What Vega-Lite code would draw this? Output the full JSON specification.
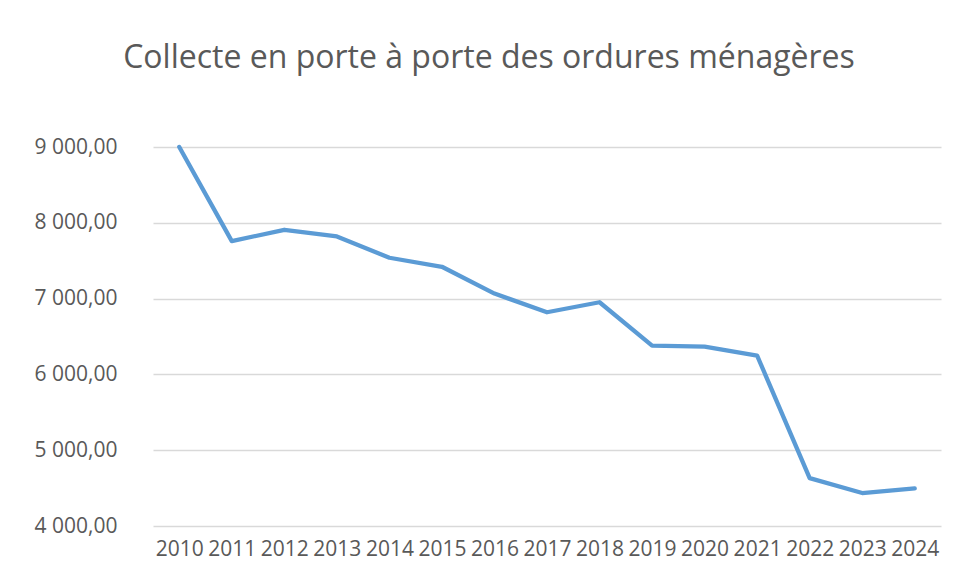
{
  "$schema": "https://vega.github.io/schema/vega-lite/v6.json",
  "width": 788,
  "height": 379,
  "autosize": {"type": "none"},
  "padding": {"left": 153, "top": 147, "right": 15, "bottom": 55},
  "background": "white",
  "config": {
    "locale": {"number": {"decimal": ",", "thousands": " ", "grouping": [3], "currency": ["", " €"]}},
    "view": {"stroke": null},
    "font": "Open Sans"
  },
  "title": {
    "text": "Collecte en porte à porte des ordures ménagères",
    "fontSize": 32,
    "fontWeight": "normal",
    "color": "#595959",
    "font": "Open Sans",
    "anchor": "middle",
    "dx": -58,
    "offset": 61
  },
  "data": {
    "values": [
      {"annee": "2010", "tonnes": 9000},
      {"annee": "2011", "tonnes": 7758},
      {"annee": "2012", "tonnes": 7908},
      {"annee": "2013", "tonnes": 7820},
      {"annee": "2014", "tonnes": 7539},
      {"annee": "2015", "tonnes": 7420},
      {"annee": "2016", "tonnes": 7066},
      {"annee": "2017", "tonnes": 6820},
      {"annee": "2018", "tonnes": 6952},
      {"annee": "2019", "tonnes": 6380},
      {"annee": "2020", "tonnes": 6367},
      {"annee": "2021", "tonnes": 6248},
      {"annee": "2022", "tonnes": 4632},
      {"annee": "2023", "tonnes": 4435},
      {"annee": "2024", "tonnes": 4495}
    ]
  },
  "mark": {"type": "line", "color": "#5b9bd5", "strokeWidth": 4.3, "strokeCap": "round", "strokeJoin": "round"},
  "encoding": {
    "x": {
      "field": "annee",
      "type": "ordinal",
      "scale": {"type": "point", "padding": 0.5},
      "axis": {
        "title": null,
        "labelAngle": 0,
        "labelFontSize": 21,
        "labelColor": "#595959",
        "labelFont": "Open Sans",
        "labelPadding": 12,
        "ticks": false,
        "domain": false,
        "grid": false
      }
    },
    "y": {
      "field": "tonnes",
      "type": "quantitative",
      "scale": {"domain": [4000, 9000], "nice": false, "zero": false},
      "axis": {
        "title": null,
        "values": [4000, 5000, 6000, 7000, 8000, 9000],
        "format": ",.2f",
        "labelFontSize": 21,
        "labelColor": "#595959",
        "labelFont": "Open Sans",
        "labelPadding": 36,
        "ticks": false,
        "domain": false,
        "grid": true,
        "gridColor": "#d9d9d9",
        "gridWidth": 1.3
      }
    }
  }
}
